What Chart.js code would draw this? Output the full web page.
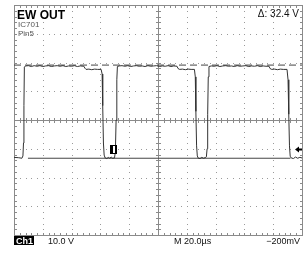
<!DOCTYPE html>
<html>
<head>
<meta charset="utf-8">
<script src="https://cdn.jsdelivr.net/npm/chart.js@4.4.1/dist/chart.umd.min.js"></script>
<style>
  html, body { margin: 0; padding: 0; background: #fff; }
  canvas { display: block; }
</style>
</head>
<body>
<canvas id="scope" width="307" height="253"></canvas>
<script>
// time in microseconds, voltage in volts (10 V/div, 20 us/div)
var timeRange = [0, 200];
var voltRange = [-40, 40];

var traceTime = [0, 3, 5.5, 6.2, 6.6, 6.9, 7.2, 8, 10, 12, 14, 16, 18, 20, 22, 24, 26, 28, 30, 32, 34, 36, 38, 40, 42, 44, 46, 48.5,
  49.3, 50, 52, 54, 56, 58, 60.5, 61.2, 61.6, 62.1, 62.6, 63.3, 64.5, 65.5, 66.5, 67.5, 68.5, 69.8, 70.4, 70.9, 71.4, 71.8,
  73, 75, 77, 79, 81, 83, 85, 87, 89, 91, 93, 95, 97, 99, 101, 103, 105, 107, 109, 111, 113.2,
  113.9, 115, 117, 119, 121, 123, 125.3, 125.9, 126.3, 126.8, 127.3, 128, 129.2, 130.4, 131.6, 132.8, 133.6, 134.1, 134.5, 134.9, 135.4,
  137, 139, 141, 143, 145, 147, 149, 151, 153, 155, 157, 159, 161, 163, 165, 167, 169, 171, 173, 175, 177.1,
  177.8, 179, 181, 183, 185, 187, 189.6, 190.3, 190.8, 191.3, 191.8, 192.5, 194, 195.5, 197, 198.5, 200];
var traceVolts = [-13.0, -13.1, -13.3, -12.5, -8, 5, 18.4, 18.8, 18.9, 18.6, 18.9, 18.7, 18.9, 18.6, 18.8, 18.9, 18.6, 18.8, 18.9, 18.7, 18.9, 18.6, 18.8, 18.7, 18.9, 18.6, 18.8, 18.7,
  18.0, 17.6, 17.7, 17.5, 17.7, 17.6, 17.6, 16, 5, -8, -12.2, -13.2, -13.4, -13.0, -13.3, -12.9, -13.3, -13.2, -11, 0, 14, 18.6,
  18.8, 18.9, 18.7, 18.9, 18.6, 18.8, 18.9, 18.7, 18.8, 18.6, 18.9, 18.7, 18.8, 18.9, 18.6, 18.8, 18.7, 18.9, 18.6, 18.8, 18.7,
  17.9, 17.6, 17.7, 17.5, 17.7, 17.6, 17.6, 15, 3, -9, -12.5, -13.3, -13.4, -13.0, -13.3, -13.1, -12.8, -10, 2, 15, 18.6,
  18.8, 18.7, 18.9, 18.6, 18.8, 18.9, 18.7, 18.8, 18.6, 18.9, 18.7, 18.8, 18.9, 18.6, 18.8, 18.7, 18.9, 18.6, 18.8, 18.7, 18.7,
  17.9, 17.6, 17.7, 17.5, 17.7, 17.6, 17.6, 14, 2, -9, -12.6, -13.2, -13.4, -12.9, -13.3, -13.0, -13.2];

var cursorHigh = 19.1;
var cursorLow = -13.3;
var cursorLowTime = [9.7, 192];
var triggerLevel = -10.2;
var markerTime = 69;

var labels = {
  title: 'EW OUT',
  sub1: 'IC701',
  sub2: 'Pin5',
  delta: '\u0394: 32.4 V',
  ch: 'Ch1',
  volts: '10.0 V',
  time: 'M 20.0\u00b5s',
  trig: '\u2212200mV'
};

function pairs(xs, ys) {
  return xs.map(function (t, i) { return { x: t, y: ys[i] }; });
}

var scopeGrid = {
  id: 'scopeGrid',
  beforeDatasetsDraw: function (chart) {
    var ctx = chart.ctx, xs = chart.scales.x, ys = chart.scales.y;
    var xd = (timeRange[1] - timeRange[0]) / 10, yd = (voltRange[1] - voltRange[0]) / 8;
    var px = function (v) { return Math.round(xs.getPixelForValue(v)); };
    var py = function (v) { return Math.round(ys.getPixelForValue(v)); };
    var L = px(timeRange[0]), R = px(timeRange[1]), T = py(voltRange[1]), B = py(voltRange[0]);
    var cx = px(timeRange[0] + 5 * xd), cy = py(0);
    ctx.save();
    // dotted division lines
    ctx.fillStyle = '#9a9a9a';
    for (var i = 1; i < 10; i++) {
      if (i === 5) continue;
      var gx = px(timeRange[0] + i * xd);
      for (var j = 1; j < 40; j++) ctx.fillRect(gx, py(voltRange[0] + j * yd / 5), 1, 1);
    }
    for (i = 1; i < 8; i++) {
      if (i === 4) continue;
      var gy = py(voltRange[0] + i * yd);
      for (j = 1; j < 50; j++) ctx.fillRect(px(timeRange[0] + j * xd / 5), gy, 1, 1);
    }
    // center cross with minor ticks
    ctx.fillStyle = '#8a8a8a';
    ctx.fillRect(cx, T, 1, B - T);
    ctx.fillRect(L, cy, R - L, 1);
    for (j = 1; j < 40; j++) ctx.fillRect(cx - 2, py(voltRange[0] + j * yd / 5), 5, 1);
    for (j = 1; j < 50; j++) ctx.fillRect(px(timeRange[0] + j * xd / 5), cy - 2, 1, 5);
    // border with inward ticks
    ctx.fillStyle = '#8a8a8a';
    ctx.fillRect(L, T, R - L + 1, 1);
    ctx.fillRect(L, B, R - L + 1, 1);
    ctx.fillRect(L, T, 1, B - T);
    ctx.fillRect(R, T, 1, B - T);
    for (j = 1; j < 50; j++) {
      var tx = px(timeRange[0] + j * xd / 5);
      ctx.fillRect(tx, T, 1, 3);
      ctx.fillRect(tx, B - 2, 1, 3);
    }
    for (j = 1; j < 40; j++) {
      var ty = py(voltRange[0] + j * yd / 5);
      ctx.fillRect(L, ty, 3, 1);
      ctx.fillRect(R - 2, ty, 3, 1);
    }
    ctx.restore();
  },
  afterDraw: function (chart) {
    var ctx = chart.ctx, xs = chart.scales.x, ys = chart.scales.y, a = chart.chartArea;
    ctx.save();
    ctx.textBaseline = 'alphabetic';
    ctx.fillStyle = '#000';
    ctx.font = 'bold 12px "Liberation Sans", Arial, sans-serif';
    ctx.fillText(labels.title, a.left + 3, 19);
    ctx.fillStyle = '#555';
    ctx.font = '8px "Liberation Sans", Arial, sans-serif';
    ctx.fillText(labels.sub1, a.left + 4, 27);
    ctx.fillText(labels.sub2, a.left + 4, 36);
    ctx.fillStyle = '#111';
    ctx.font = '10px "Liberation Sans", Arial, sans-serif';
    ctx.textAlign = 'right';
    ctx.fillText(labels.delta, a.right - 3, 17);
    // trigger arrow on right edge
    var ty = Math.round(ys.getPixelForValue(triggerLevel)) + 0.5;
    ctx.fillStyle = '#000';
    ctx.beginPath();
    ctx.moveTo(a.right - 7, ty);
    ctx.lineTo(a.right - 3, ty - 3);
    ctx.lineTo(a.right - 3, ty + 3);
    ctx.closePath();
    ctx.fill();
    ctx.fillRect(a.right - 4, ty - 1, 4, 2);
    // channel marker box
    var mx = Math.round(xs.getPixelForValue(markerTime));
    var my = Math.round(ys.getPixelForValue(triggerLevel));
    ctx.fillStyle = '#000';
    ctx.fillRect(mx - 3, my - 4, 7, 9);
    ctx.fillStyle = '#fff';
    ctx.fillRect(mx, my - 3, 2, 7);
    // bottom readout
    ctx.textAlign = 'left';
    ctx.fillStyle = '#000';
    ctx.fillRect(a.left, 236, 20, 9);
    ctx.fillStyle = '#fff';
    ctx.font = 'bold 9px "Liberation Sans", Arial, sans-serif';
    ctx.fillText(labels.ch, a.left + 2, 244);
    ctx.fillStyle = '#111';
    ctx.font = '9px "Liberation Sans", Arial, sans-serif';
    ctx.fillText(labels.volts, 48, 244);
    ctx.fillText(labels.time, 174, 244);
    ctx.textAlign = 'right';
    ctx.fillText(labels.trig, 300, 244);
    ctx.restore();
  }
};

new Chart(document.getElementById('scope').getContext('2d'), {
  type: 'line',
  data: {
    datasets: [
      {
        data: pairs(traceTime, traceVolts),
        borderColor: '#333',
        borderWidth: 1,
        pointRadius: 0,
        tension: 0
      },
      {
        data: pairs(timeRange, [cursorHigh, cursorHigh]),
        borderColor: '#444',
        borderWidth: 1,
        borderDash: [7, 4],
        pointRadius: 0
      },
      {
        data: pairs(cursorLowTime, [cursorLow, cursorLow]),
        borderColor: '#444',
        borderWidth: 1,
        pointRadius: 0
      }
    ]
  },
  options: {
    responsive: false,
    animation: false,
    layout: { padding: { left: 14, right: 5, top: 5, bottom: 18 } },
    plugins: { legend: { display: false }, tooltip: { enabled: false } },
    scales: {
      x: { type: 'linear', min: timeRange[0], max: timeRange[1], display: false },
      y: { type: 'linear', min: voltRange[0], max: voltRange[1], display: false }
    }
  },
  plugins: [scopeGrid]
});
</script>
</body>
</html>
